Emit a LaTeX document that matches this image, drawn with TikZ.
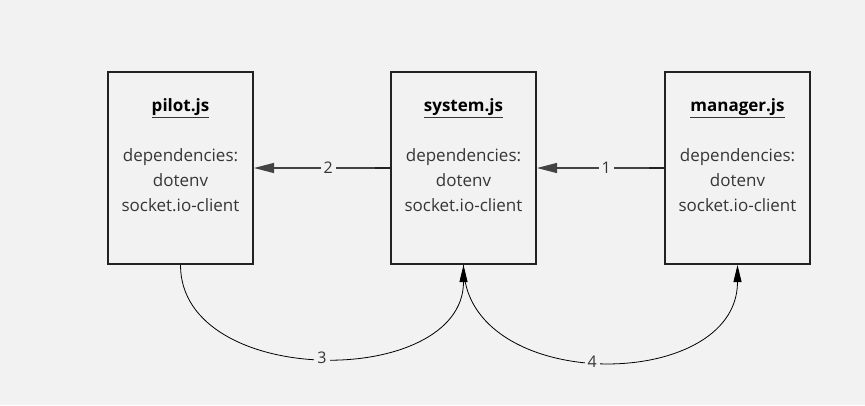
\documentclass[tikz,border=0pt]{standalone}
\usepackage{fontspec}
\setmainfont{Open Sans}
\usetikzlibrary{arrows.meta}
\definecolor{bg}{HTML}{F2F2F2}
\definecolor{txt}{HTML}{363636}
\definecolor{edge}{HTML}{222222}
\begin{document}
\begin{tikzpicture}[x=1pt,y=-1pt,
  modbox/.style={draw=edge,line width=2pt,fill=bg,minimum width=145pt,minimum height=192pt,inner sep=0pt},
  modtext/.style={text=txt,align=center,font=\fontsize{17}{25}\selectfont,inner sep=0pt},
  conn/.style={draw=edge!85,line width=1.2pt,-{Triangle[length=20pt,width=10pt]}},
  curv/.style={draw=black,line width=0.8pt,-{Triangle[length=17pt,width=8pt]}},
  lbl/.style={fill=bg,text=txt,font=\fontsize{16}{18}\selectfont,inner sep=3pt}]
\fill[bg] (0,0) rectangle (865,405);
\useasboundingbox (0,0) rectangle (865,405);
\node[modbox] (pilot) at (180.5,168) {};
\node[modbox] (system) at (463.5,168) {};
\node[modbox] (manager) at (737.5,168) {};
\node[modtext] (pilott) at (180.5,155) {\textbf{\underline{\color{black}pilot.js}}\\[25pt]dependencies:\\dotenv\\socket.io-client};
\node[modtext] (systemt) at (463.5,155) {\textbf{\underline{\color{black}system.js}}\\[25pt]dependencies:\\dotenv\\socket.io-client};
\node[modtext] (managert) at (737.5,155) {\textbf{\underline{\color{black}manager.js}}\\[25pt]dependencies:\\dotenv\\socket.io-client};
% horizontal connectors
\draw[conn] (system.west) -- node[lbl,pos=0.455]{2} (pilot.east);
\draw[conn] (manager.west) -- node[lbl,pos=0.455]{1} (system.east);
\draw[edge,line width=2.6pt] (system.west) -- +(-15,0);
\draw[edge,line width=2.6pt] (manager.west) -- +(-15,0);
% curved connectors
\coordinate (pb) at (pilot.south);
\coordinate (sb) at (system.south);
\coordinate (mb) at (manager.south);
\draw[curv] (pb) .. controls +(0,124) and +(0,124) .. node[lbl,pos=0.5]{3} (sb);
\draw[curv] (sb) .. controls +(0,129) and +(0,129) .. node[lbl,pos=0.48]{4} (mb);
\end{tikzpicture}
\end{document}
